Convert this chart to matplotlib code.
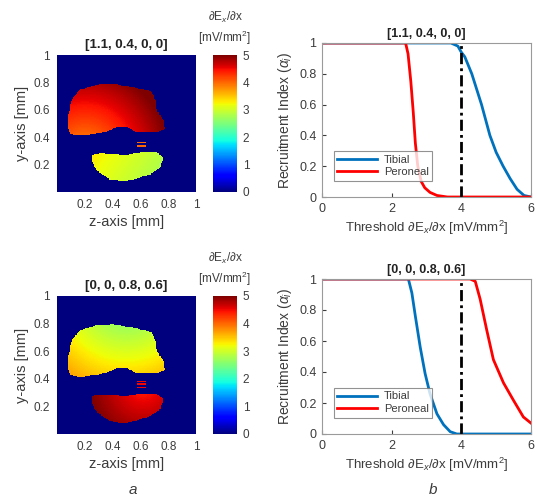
import numpy as np
import matplotlib
matplotlib.use('Agg')
import matplotlib.pyplot as plt
from matplotlib.path import Path

plt.rcParams['font.family'] = ['Liberation Sans', 'DejaVu Sans']
plt.rcParams['mathtext.fontset'] = 'custom'
plt.rcParams['mathtext.rm'] = 'Liberation Sans'
plt.rcParams['mathtext.it'] = 'Liberation Sans:italic'
plt.rcParams['mathtext.sf'] = 'Liberation Sans'

GRAY = '#3c3c3c'
BLUE = '#0072BD'
RED = '#FF0000'

# fascicle outlines (z, y) in mm
upper_fascicle = [(0.080, 0.548), (0.104, 0.672), (0.164, 0.746), (0.284, 0.783), (0.405, 0.790),
                  (0.549, 0.765), (0.682, 0.733), (0.706, 0.672), (0.718, 0.598), (0.766, 0.523),
                  (0.778, 0.462), (0.742, 0.444), (0.646, 0.437), (0.573, 0.437), (0.501, 0.474),
                  (0.441, 0.479), (0.381, 0.449), (0.284, 0.425), (0.164, 0.412), (0.092, 0.425),
                  (0.080, 0.474)]
lower_fascicle = [(0.248, 0.272), (0.308, 0.281), (0.405, 0.277), (0.501, 0.272), (0.598, 0.289),
                  (0.718, 0.289), (0.766, 0.252), (0.742, 0.178), (0.670, 0.128), (0.549, 0.091),
                  (0.477, 0.079), (0.381, 0.091), (0.308, 0.141), (0.272, 0.178), (0.248, 0.240)]
bridge_y = [0.380, 0.359, 0.338]
bridge_z = [0.575, 0.640]

titles = ['[1.1, 0.4, 0, 0]', '[0, 0, 0.8, 0.6]']

# threshold fields: ('lin', v0, dv/dz, dv/dy, z0, y0) or ('rad', v0, dv/dr, zc, yc)
upper_fields = [('rad', 3.75, 2.1, 0.20, 0.30), ('rad', 2.25, 2.05, 0.50, 1.00)]
lower_fields = [('lin', 3.3, -0.9, 0.6, 0.25, 0.25), ('rad', 4.35, 1.7, 0.62, 0.34)]
bridge_values = [4.0, 4.5]

# recruitment curves
tib_x = [[0, 3.7, 3.9, 4.0, 4.1, 4.3, 4.58, 4.82, 5.0, 5.2, 5.4, 5.6, 5.8, 6.0],
         [0, 2.48, 2.58, 2.68, 2.82, 2.96, 3.1, 3.3, 3.49, 3.68, 3.87, 6.0]]
tib_y = [[1, 1, 0.98, 0.94, 0.91, 0.8, 0.6, 0.4, 0.29, 0.2, 0.12, 0.05, 0.01, 0],
         [1, 1, 0.91, 0.76, 0.56, 0.39, 0.26, 0.13, 0.06, 0.015, 0.0, 0.0]]
per_x = [[0, 2.4, 2.47, 2.55, 2.62, 2.68, 2.75, 2.85, 2.95, 3.1, 3.3, 3.6, 6.0],
         [0, 4.25, 4.4, 4.54, 4.73, 4.92, 5.21, 5.49, 5.78, 6.0]]
per_y = [[1, 1, 0.93, 0.75, 0.55, 0.35, 0.2, 0.1, 0.06, 0.03, 0.01, 0, 0],
         [1, 1, 0.985, 0.87, 0.67, 0.48, 0.33, 0.22, 0.11, 0.07]]
threshold = 4.0


def field(spec, Z, Y):
    if spec[0] == 'lin':
        _, v0, gz, gy, z0, y0 = spec
        return v0 + gz * (Z - z0) + gy * (Y - y0)
    _, v0, k, zc, yc = spec
    return v0 + k * np.hypot(Z - zc, Y - yc)


n = 220
zs = (np.arange(n) + 0.5) / n
Z, Y = np.meshgrid(zs, zs)
pts = np.column_stack([Z.ravel(), Y.ravel()])
in_up = Path(upper_fascicle).contains_points(pts).reshape(Z.shape)
in_lo = Path(lower_fascicle).contains_points(pts).reshape(Z.shape)
in_br = np.zeros_like(in_up)
for by in bridge_y:
    in_br |= (np.abs(Y - by) < 0.004) & (Z > bridge_z[0]) & (Z < bridge_z[1])

fig = plt.figure(figsize=(5.37, 5.04), dpi=100)
W, H = 537, 504


def ax_px(l, t, r, b):
    return fig.add_axes([l / W, 1 - b / H, (r - l) / W, (b - t) / H])


img_boxes = [(57, 55, 196, 192), (57, 296, 196, 434)]
cb_boxes = [(213, 55, 237, 192), (213, 296, 237, 434)]
line_boxes = [(322, 43, 531, 197), (322, 279, 531, 434)]

for i in range(2):
    data = np.zeros(Z.shape)
    data[in_up] = field(upper_fields[i], Z, Y)[in_up]
    data[in_lo] = field(lower_fields[i], Z, Y)[in_lo]
    data[in_br] = bridge_values[i]
    data = np.clip(data, 0, 5)

    ax = ax_px(*img_boxes[i])
    im = ax.imshow(data, origin='lower', extent=[0, 1, 0, 1], cmap='jet', vmin=0, vmax=5,
                   interpolation='nearest', aspect='auto')
    ax.set_xticks([0.2, 0.4, 0.6, 0.8, 1])
    ax.set_xticklabels(['0.2', '0.4', '0.6', '0.8', '1'])
    ax.set_yticks([0.2, 0.4, 0.6, 0.8, 1])
    ax.set_yticklabels(['0.2', '0.4', '0.6', '0.8', '1'])
    ax.tick_params(length=0, labelsize=8.5, colors=GRAY, pad=5)
    for s in ax.spines.values():
        s.set_visible(False)
    ax.set_xlabel('z-axis [mm]', fontsize=10.5, color=GRAY, labelpad=3)
    ax.set_ylabel('y-axis [mm]', fontsize=10.5, color=GRAY, labelpad=3)
    ax.set_title(titles[i], fontsize=9.5, fontweight='bold', color='#222222', pad=5)

    cax = ax_px(*cb_boxes[i])
    cb = fig.colorbar(im, cax=cax, ticks=[0, 1, 2, 3, 4, 5])
    cb.outline.set_visible(False)
    cax.tick_params(length=0, labelsize=8.5, colors=GRAY, pad=4)
    cax.text(1.25, 1.22, r'$\partial$E$_x$/$\partial$x', transform=cax.transAxes,
             ha='right', va='bottom', fontsize=8.5, color=GRAY)
    cax.text(1.6, 1.055, r'[mV/mm$^2$]', transform=cax.transAxes,
             ha='right', va='bottom', fontsize=8.5, color=GRAY)

    lax = ax_px(*line_boxes[i])
    lax.plot(tib_x[i], tib_y[i], color=BLUE, lw=2, label='Tibial')
    lax.plot(per_x[i], per_y[i], color=RED, lw=2, label='Peroneal')
    lax.axvline(threshold, color='black', lw=2, ls=(0, (4, 1.5, 1, 1.5)))
    lax.set_xlim(0, 6)
    lax.set_ylim(0, 1)
    lax.set_xticks([0, 2, 4, 6])
    lax.set_yticks([0, 0.2, 0.4, 0.6, 0.8, 1])
    lax.set_yticklabels(['0', '0.2', '0.4', '0.6', '0.8', '1'])
    lax.tick_params(direction='in', length=3, labelsize=9, colors=GRAY, pad=4)
    for s in lax.spines.values():
        s.set_color('#9a9a9a')
        s.set_linewidth(0.8)
    lax.set_xlabel(r'Threshold $\partial$E$_x$/$\partial$x [mV/mm$^2$]', fontsize=9.5, color=GRAY, labelpad=3)
    lax.set_ylabel(r'Recruitment Index ($\alpha_i$)', fontsize=10, color=GRAY, labelpad=4)
    lax.set_title(titles[i], fontsize=9, fontweight='bold', color='#222222', pad=4)
    leg = lax.legend(loc='lower left', fontsize=8, handlelength=3.6, frameon=True, fancybox=False,
                     borderpad=0.3, labelspacing=0.25, handletextpad=0.6,
                     bbox_to_anchor=(0.03, 0.07))
    leg.get_frame().set_edgecolor('#777777')
    leg.get_frame().set_linewidth(0.8)
    for t in leg.get_texts():
        t.set_color(GRAY)

fig.text(133 / W, 1 - 490 / H, 'a', fontsize=11, style='italic', ha='center', va='center', color=GRAY)
fig.text(433 / W, 1 - 490 / H, 'b', fontsize=11, style='italic', ha='center', va='center', color=GRAY)

fig.savefig('out.png', dpi=100)
